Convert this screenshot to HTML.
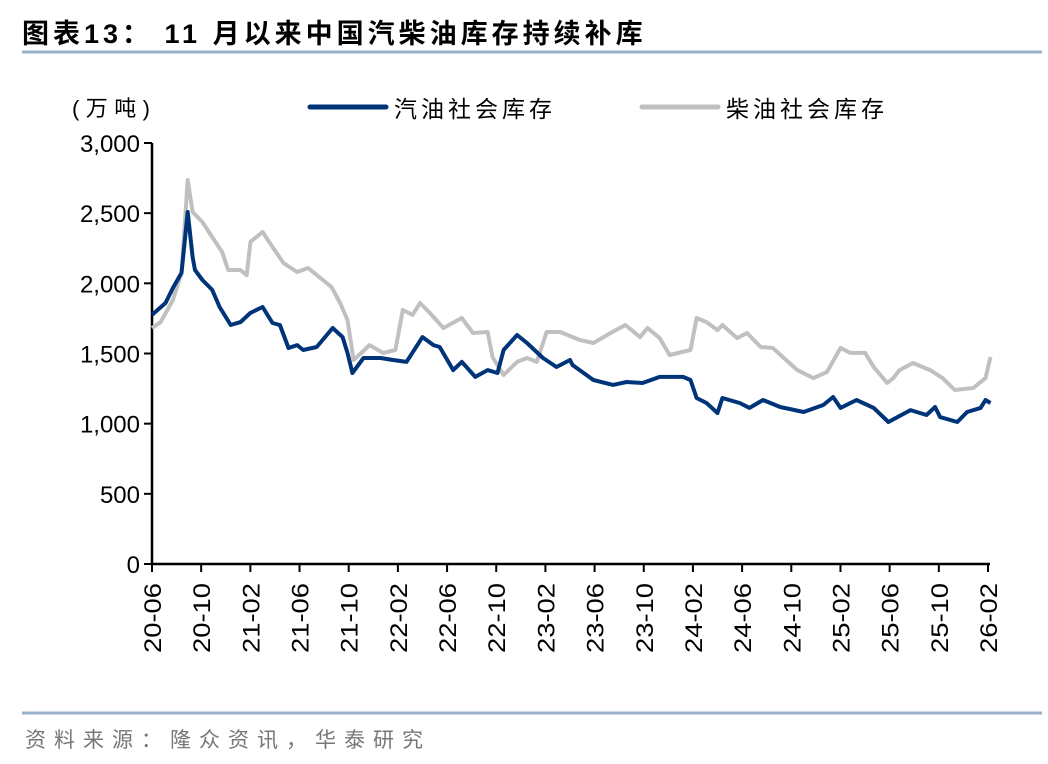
<!DOCTYPE html>
<html><head><meta charset="utf-8">
<style>
body{margin:0;background:#fff;width:1048px;height:764px;overflow:hidden;font-family:"Liberation Sans","Noto Sans CJK SC",sans-serif;}
svg{display:block}
</style></head>
<body>
<svg width="1048" height="764">
<text x="22" y="43" font-size="27" font-weight="bold" fill="#000" letter-spacing="4" font-family="Liberation Sans, Noto Sans CJK SC, sans-serif">图表13：  11 月以来中国汽柴油库存持续补库</text>
<line x1="22" y1="52" x2="1042" y2="52" stroke="#98b0ca" stroke-width="3"/>
<text x="72" y="116" font-size="22" fill="#000" textLength="78">(万吨)</text>
<g>
<line x1="310" y1="107" x2="386" y2="107" stroke="#003479" stroke-width="5" stroke-linecap="round"/>
<text x="394" y="117" font-size="23" fill="#000" letter-spacing="4">汽油社会库存</text>
<line x1="642" y1="107" x2="718" y2="107" stroke="#c0c0c0" stroke-width="5" stroke-linecap="round"/>
<text x="726" y="117" font-size="23" fill="#000" letter-spacing="4">柴油社会库存</text>
</g>
<g id="axes"></g>
<g id="series"></g>
<line x1="22" y1="713" x2="1042" y2="713" stroke="#98b0ca" stroke-width="3"/>
<text x="25" y="747" font-size="21" fill="#777" letter-spacing="8">资料来源：隆众资讯，华泰研究</text>
</svg>
<script>
const xTickLabels=["20-06","20-10","21-02","21-06","21-10","22-02","22-06","22-10","23-02","23-06","23-10","24-02","24-06","24-10","25-02","25-06","25-10","26-02"];
const yTicks=[0,500,1000,1500,2000,2500,3000];
const gasMonths=[0,1.1,1.7,2.4,2.9,3.3,3.5,4.1,4.9,5.5,6.4,7.2,8,9,9.8,10.4,11.1,11.8,12.3,13.4,14.7,15.5,15.9,16.3,17.2,18.6,19.6,20.7,22,22.9,23.4,24.5,25.2,26.3,27.3,28.1,28.6,29.7,30.5,31.8,32.9,34,34.2,35.9,37.5,38.6,39.9,41.3,43.2,43.8,44.3,45.1,46,46.4,47.8,48.6,49.7,51.1,53,54.6,55.4,56,57.3,58.7,59.9,61.7,63,63.7,64.1,65.5,66.3,67.4,67.8,68.2];
const gasValues=[1775,1860,1967,2074,2508,2188,2095,2024,1953,1831,1703,1724,1789,1831,1717,1703,1539,1560,1525,1546,1682,1617,1504,1361,1468,1468,1454,1440,1617,1560,1546,1382,1440,1333,1382,1361,1525,1632,1575,1468,1404,1454,1418,1311,1276,1297,1290,1333,1333,1311,1183,1147,1076,1183,1147,1112,1169,1119,1083,1133,1190,1112,1169,1112,1012,1097,1062,1119,1047,1012,1083,1112,1169,1147];
const dieselMonths=[0,0.7,1.7,2.4,2.9,3.3,4.1,4.9,5.7,6.2,7.2,7.7,8,9,9.8,10.7,11.8,12.7,13.7,14.6,15.3,15.9,16.4,17.7,18.8,19.8,20.4,21.2,21.8,22.6,23.7,25.2,26.1,27.3,27.7,28.6,29.7,30.5,31.3,32.1,33.2,34.8,35.9,37.3,38.5,39.7,40.3,41.3,42.1,43.8,44.3,45.1,46,46.4,47.6,48.4,49.5,50.5,51.3,52.5,53.8,54.9,56,56.8,58,58.7,59.8,60.3,60.8,61.9,63.3,64.3,65.3,66.8,67.8,68.2];
const dieselValues=[1682,1724,1881,2074,2736,2508,2437,2330,2223,2095,2095,2059,2295,2366,2259,2145,2081,2109,2038,1974,1860,1739,1454,1560,1504,1525,1810,1775,1860,1789,1682,1753,1646,1653,1475,1347,1440,1468,1440,1653,1653,1596,1575,1646,1703,1617,1682,1610,1489,1525,1753,1724,1667,1703,1610,1646,1546,1539,1475,1382,1325,1368,1539,1504,1504,1404,1290,1325,1382,1432,1382,1325,1240,1254,1325,1475];

const X0=152,X1=988,Y0=564,Y1=143,MMAX=68;
const NS="http://www.w3.org/2000/svg";
const xs=m=>X0+(m/MMAX)*(X1-X0);
const ys=v=>Y0-(v/3000)*(Y0-Y1);
function mk(tag,attrs,parent){const e=document.createElementNS(NS,tag);for(const k in attrs)e.setAttribute(k,attrs[k]);parent.appendChild(e);return e;}
const axes=document.getElementById('axes');
const series=document.getElementById('series');

yTicks.forEach(v=>{
  const t=mk('line',{x1:X0-8,x2:X0,y1:ys(v),y2:ys(v),stroke:'#000','stroke-width':2},axes);
  
  
  const s=v.toLocaleString('en-US');
  const l=mk('text',{x:X0-12,y:ys(v)+9,'font-size':24,'text-anchor':'end',fill:'#000'},axes);
  l.textContent=s;
  
  
});
xTickLabels.forEach((lab,i)=>{
  const x=xs(i*4);
  const t=mk('line',{x1:x,x2:x,y1:Y0,y2:Y0+8,stroke:'#000','stroke-width':2},axes);
  
  
  const l=mk('text',{x:0,y:0,'font-size':24,'text-anchor':'end',fill:'#000',textLength:70,lengthAdjust:'spacingAndGlyphs',transform:`translate(${x+9},${Y0+19}) rotate(-90)`},axes);
  l.textContent=lab;
  
  
});
const ya=mk('line',{x1:X0,x2:X0,y1:Y1,y2:Y0,stroke:'#000','stroke-width':2.5},axes);


const xa=mk('line',{x1:X0,x2:X1+2,y1:Y0,y2:Y0,stroke:'#000','stroke-width':2.5},axes);



function path(ms,vs){return ms.map((m,i)=>(i?'L':'M')+xs(m).toFixed(1)+','+ys(vs[i]).toFixed(1)).join('');}
const dl=mk('path',{d:path(dieselMonths,dieselValues),fill:'none',stroke:'#c0c0c0','stroke-width':4,'stroke-linejoin':'round'},series);


const gl=mk('path',{d:path(gasMonths,gasValues),fill:'none',stroke:'#003479','stroke-width':4,'stroke-linejoin':'round'},series);


</script>
</body></html>
